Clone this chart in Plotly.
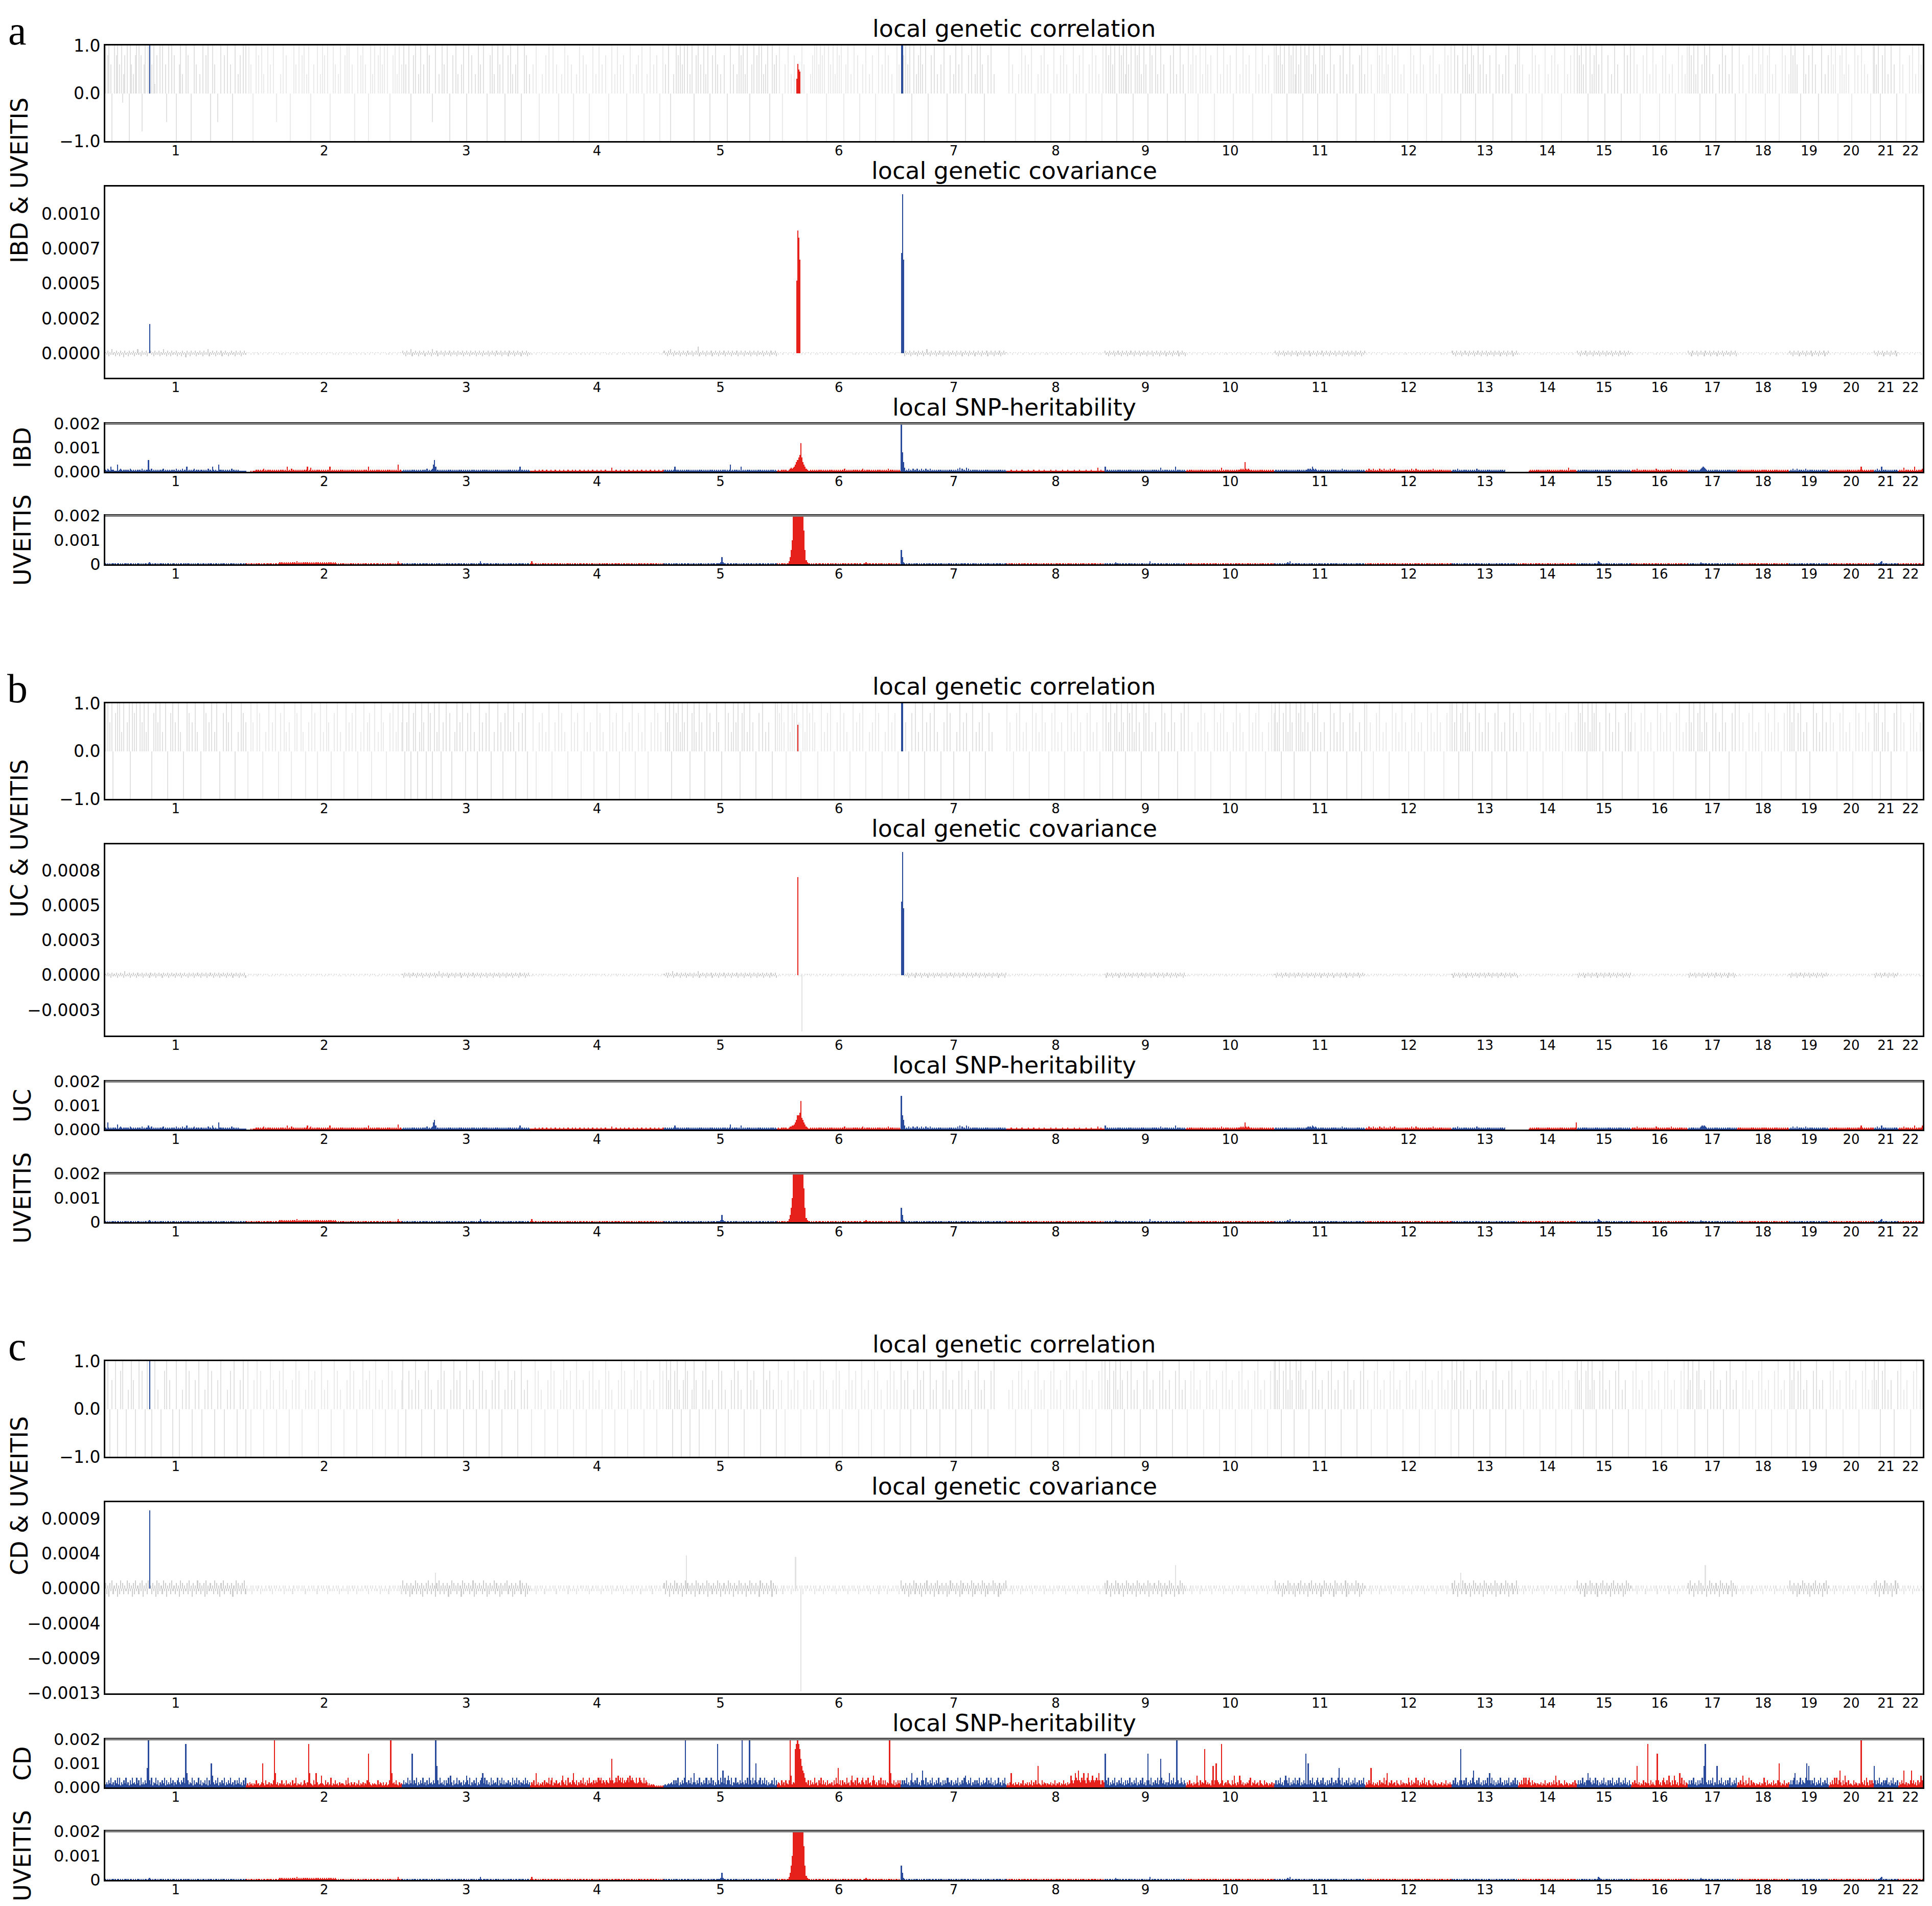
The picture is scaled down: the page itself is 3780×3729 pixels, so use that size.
import plotly.graph_objects as go

W, H = 3780, 3729

# LD blocks per chromosome (x axis is block index)
chrom_blocks = [132, 146, 120, 125, 106, 116, 99, 92, 76, 83, 85, 81,
                62, 55, 51, 53, 46, 49, 37, 42, 23, 23]
chrom_names = [str(i) for i in range(1, 23)]

# level codes
corr_levels = {'.': 0.0, '1': 0.2, '2': 0.4, '3': 0.6, '4': 0.8, '5': 1.0,
               'a': -0.2, 'b': -0.4, 'c': -0.6, 'd': -0.8, 'e': -1.0}
cov_levels = {'0': 0, '1': 1, '2': 2, '3': 3, '4': 5,
              'a': -1, 'b': -2, 'c': -3, 'd': -5}
h2_levels = {'0': 0.0, '1': 0.00004, '2': 0.00008, '3': 0.00012, '4': 0.00017,
             '5': 0.00022, '6': 0.0003, '7': 0.0004, '8': 0.0005, '9': 0.0006,
             'A': 0.0007, 'B': 0.0008, 'C': 0.0009, 'D': 0.001, 'E': 0.0012,
             'F': 0.0014, 'G': 0.0016, 'H': 0.0018, 'I': 0.002, 'J': 0.003}

# ---------------- local genetic correlation (gray, non significant) ----------
corr_a = [
    "5.45.3e.5. 45.3.5a24. 5.e53.2.45 .5.4d.35.. 5e.3.51.4. .5.5..3c.5 ..5.4.e..3 5.2..5.4.. e..5.3..2. .5..4.5.e. 5.3..c..5. .4..5..3.e .5..2.4..5 .5",
    "..5.3.e..5 .4..5.2... 5.3..5..c. ..2.5..4.. .e..5.3..5 ..4.5.2.5. e..3..5..2 .5.4..5.e. .5.3..2.5. ..4.5.5..3 .e..5..4.5 .3..e.5.2. 5..4.5.3.5 ..5.e..4.5 .2.5.3",
    ".5.3..5.e. 4.5..2.5.. 3..5.4..c. .5..2..5.3 ..5.e..4.. 5.2..3.5.. e.5..4..2. .5.3..5..e ..4.5.2..5 .3..5.e..4 .5.2..3.5. .e..5.4..2",
    "..3..5..e. .2..4..5.. .5..3.e..2 ..5..4..3. e..2..5..4 ..3..e..5. .2..5..3.. 4..e..5..2 .5..3..4.. e..5..2..3 .4..5.e..2 ..5..3..4. .e..5",
    ".3..5.e..2 .5.4.5.3.5 ..5.2.5.e. 4.5.3..5.2 .5.e.4..5. 3..2..4..e ..5..3..2. 5.4.5.2.5. e.3.5..4.5 .5.2.3.5.e .5.3.4",
    "..5..e.3.. 5..2..4.5. ...5.3..e. .2.4.5.5.3 5.4.5.e.5. 3.5.2.5.4. 5.e.3.5..2 ..5..4.e.. 3..5..2..4 ..e..5..3. .5..4..2.e ..5.3.",
    "5.4.5.3.5. e.5.2.4.5. 3..5.e..4. .5..2..3.. 5..e..4..2 .5..3..5.. e..4..5..2 .5..5.3.e. .4..5..2..",
    "..5..3..e. .2..5..4.. 3..5..e..2 ..4..5..3. .e..5..2.. 4..5..3..e ..5..2..4. .5..e..3.. 5..4..2..e 5.",
    ".5.4.5.3.5 .e.5.4.5.2 5.3.5.e.5. 4.5.2.5.3. e.5.4..5.2 ..5..3..e. .4..5..2.. 5..3.e",
    "..5.3.5..4 .e.5.2..5. 3..4..e..5 ..2..5..3. .4..e..5.. 2..5..3..4 ..e..5..2. .5..3..4.. e.5",
    ".5.4.5.3.5 .e.5.4.5.2 5.3.5.e.5. 4.5.2.5.3. e.5.4.5..2 ..5..3..e. .4..5..2.. 5..3..e..4 .5..2",
    "..5..3..e. .5.4.5.2.5 .3.e.5.4.. 5..2..3..e ..5..4..2. .5..3..e.. 4..5..2..3 .e..5..4.. 5",
    "..5..4..e. 5.3.5.2.5. 4.e.5.3..5 ..2..4..e. .5..3..2.. 4..5..e..3 .5",
    ".5..3..e.. 2..5..4..3 ..e..5..2. .4..5..3.. e..5..2..4 ..5..",
    "5.4.5.3.5. e.5.2.4.5. 3..5..e..4 ..2..5..3. .e..5..4.. 5",
    "..5..3..e. .4..5..2.. 5..3..e..4 ..5..2..3. .e..5..4.. 2.5",
    ".5.4.5.2.5 .e.3.5.4.. 5..2..e..3 ..5..4..2. .5..e.",
    "..5..3..e. .4..5..2.. 5.3.5.e.4. 5..2..3..e ..5..4..2",
    ".5.4.5.3.. e..5.2..4. .5..3..e.. 5..2..4",
    "..5.3.5.e. 4.5.2.5.3. .e..5..4.. 5..3..2..e .5",
    "5.3.5.e.4. 5..2..5..3 .e.",
    ".5..3..e.. 4..5..2..5 .3.",
]
corr_b = [
    "5.5.3.5e.4 .5.5.2.5.. 3.5e.5.4.5 ..5.3.5.2. 5..e.4.5.3 .5.2..5.e. .4.5.3..5. 2..e..5.4. .3..5.2..e ..5.4..3.5 ..2.5..e.. 4..5.3..5. .e..2..5.4 .3",
    ".e..5.3... 5.4..e..2. .5..3..5.. e.4..5.2.. 3.e..5.4.. .5.2.e..3. .5..4.e..5 ..2..5.3.e ..4..5..2. .e.5..3..4 ..5.e..2.. 5..3.4.e.. 5..2..5.3. .e..4..5.. 2.5..3",
    "5.e.3.5.e. 4.5.e.2.5. 3.e.5.4.e. 5.2.5.e.3. .5..4.e..2 .5..3.5..e .4..5..2.. e.5..3..4. .5.e..2..5 ..3.e.4..5 .2..5.e..3 ..4..5.e..",
    "..5..e..3. .4..2..5.. e..3..5..4 ..2..e..5. .3..4..e.. 5..2..3..e ..5..4..2. .e..5..3.. 4..e..5..2 ..3..5..e. .4..2..5.. e..3..5..4 ..2..",
    ".5.3.5.e.5 .4.5.2.5.3 ..5.e.4.5. 2..5.3..e. 5..4..2..5 .3..e..5.. 4..2.5.3.5 .e.4.5..2. 5..3..e..4 ..5..2..3. .e..5.",
    "5.4.5.3.e. 5.2.5.4.5. 3.e.5.2.5. 4..5.3..e. .5..2..4.. 5..e..3..5 ..4..2..e. .5..3..4.. 5..e..2..3 ..5..4..e. .2..5..3.. 4..e..",
    ".5..3..e.. 4..5..2.. .5.e.3..4. ..5..2..e. .3..5..4.. e..2..5..3 ..4..e..5. .2..3..5.. e..4..2..",
    "5..3..e..4 ..5..2..3. .e..5..4.. 2..5..3..e ..4..5..2. .3..e..5.. 4..2..5..3 ..e..4..5. .2..3..e.. 5.",
    ".5.3.5.e.4 .5.2.5.3.e .5.4.5.2.5 ..3.e.5.4. .5..2..3.. e..5..4..2 ..5..3..e. .4..5.",
    "..5..2..e. .3..5..4.. 2..e..5..3 ..4..5..2. .e..3..5.. 4..2..e..5 ..3..4..5. .2..e..3.. 5.4",
    "5.3.5.e.4. 5.2.5.3.e. 5.4.5.2.5. .3.e.5.4.. 5..2..3..e ..5..4..2. .5..3..e.. 4..5..2..3 .e..5",
    ".5..3..e.. 4..5..2..3 ..e..5..4. .2..5..3.. e..4..5..2 ..3..e..5. .4..2..5.. 3..e..4..5 .",
    "5.3.5.e.4. 5.2.5.3..e ..5..4..2. .5..3..e.. 4..5..2..3 .e..5..4.. 2.",
    "..5..3..e. .4..5..2.. 3..e..5..4 ..2..5..3. .e..4..5.. 2..3.",
    ".5.4.5.3.e 5.2.5.4.5. .3..e..5.. 4..2..5..3 ..e..4..5. 2",
    "5..3..e..4 ..5..2..3. .e..5..4.. 2..5..3..e ..4..5..2. .3.",
    ".5.3.5.e.4 .5.2.5.3.. e..5..4..2 ..5..3..e. .4..5.",
    "..5..3..e. .4..5..2.. 3..e..5..4 ..2..5..3. .e..4..5.",
    "5.3.5.e.4. 5..2..3..e ..5..4..2. .5..3.",
    ".5..3..e.. 4..5..2..3 ..e..5..4. .2..5..3.. e.",
    "5.4.5.e.3. 5..2..e..4 .5.",
    "..5..3..e. .4..5..2.. 3.5",
]
corr_c = [
    "..5.e.3..5 .e..4.5..e .2..5.3.e. .5..4..e.5 .3.e..5..2 ..e..4.5.. 3..e..5..e ..2..5..4. .e..3..5.. e..2..5..4 ..e..3..5. .e..2..4.. 5..e..3..5 .e",
    ".5..e..3.. 5..4..e..2 ..5..3..e. .4..5..2.. e..3..5..4 ..e..2..5. .3..4..e.. 5..2..3..e ..5..4..2. .e..3..5.. 4..e..2..5 ..3..4..e. .5..2..3.. e..5..4..2 ..e..3",
    "5..e..4..2 ..5..3..e. .4..5..2.. e..3..5..4 ..e..2..5. .3..4..e.. 5..2..3..e ..5..4..2. .e..3..5.. 4..e..2..5 ..3..4..e. .5..2..3..",
    ".e..5..4.. 2..e..3..5 ..4..e..2. .5..3..4.. e..5..2..3 ..e..4..5. .2..3..e.. 5..4..2..e ..3..5..4. .e..2..5.. 3..4..e..5 ..2..3..e. .5..4",
    "..5.3.5.e. 4.5.2.e.3. 5.4.e.2.5. 3..e..4..5 ..2..3..e. .5..4..2.. e..3..5..4 ..2..e..5. .3..4..2.. e..5..3..4 ..2..e",
    ".5..3..e.. 4..2..5..3 ..e..4..5. .2..3..e.. 5..4..2..e ..3..5..4. .e..2..5.. 3..4..e..5 ..2..3..e. .5..4..2.. e..3..5..4 ..2..e",
    "5..3..4..e ..2..5..3. .4..e..5.. 2..3..e..4 ..5..2..3. .e..4..5.. 2..3..e..4 ..5..2..3. .e..4..5..",
    "..2..3..e. .4..5..2.. 3..e..4..5 ..2..3..e. .4..5..2.. 3..e..4..5 ..2..3..e. .4..5..2.. 3..e..4..5 ..",
    "5.3.5.e.4. 5.2.5.3.e. .4..5..2.. 3..e..4..5 ..2..3..e. .4..5..2.. 3..e..4..5 ..2..3",
    ".e..4..5.. 2..3..e..4 ..5..2..3. .e..4..5.. 2..3..e..4 ..5..2..3. .e..4..5.. 2..3..e..4 ..5",
    "5.3.5.e.4. 5.2.5.3.e. 5.4.5.2..3 ..e..4..5. .2..3..e.. 4..5..2..3 ..e..4..5. .2..3..e.. 4..5.",
    "..3..e..4. .5..2..3.. e..4..5..2 ..3..e..4. .5..2..3.. e..4..5..2 ..3..e..4. .5..2..3.. e",
    "5.3.5.e.4. .5..2..3.. e..4..5..2 ..3..e..4. .5..2..3.. e..4..5..2 ..",
    "..3..e..4. .5..2..3.. e..4..5..2 ..3..e..4. .5..2..3.. e..4.",
    "5.3.5.e.4. 5.2.5.3.e. .4..5..2.. 3..e..4..5 ..2..3..e. .",
    ".4..5..2.. 3..e..4..5 ..2..3..e. .4..5..2.. 3..e..4..5 ..2",
    "5.3.5.e.4. 5.2..3..e. .4..5..2.. 3..e..4..5 ..2..3",
    "..e..4..5. .2..3..e.. 4..5..2..3 ..e..4..5. .2..3..e.",
    "5.3.5.e.4. 5..2..3..e ..4..5..2. .3..e..",
    ".4..5..2.. 3..e..4..5 ..2..3..e. .4..5..2.. 3.",
    "5.3.5.e.4. 5..2..3..e ..4",
    "..5..2..3. .e..4..5.. 2.5",
]
# significant blocks: (chromosome, block in chromosome, value)
corr_sig_a = [(1, 41, 1.0), (6, 18, 0.3), (6, 19, 0.62), (6, 20, 0.5), (6, 21, 0.45),
              (7, 0, 1.0), (7, 1, 1.0)]
corr_sig_b = [(6, 19, 0.55), (7, 0, 1.0), (7, 1, 1.0)]
corr_sig_c = [(1, 41, 1.0)]

# ---------------- local genetic covariance ----------------------------------
cov_a = [
    "1a2b1a3a1b 2a1b2a1c2a 1b2a1a2b1a 3a1b2a1a2b 1a2a1b2a1a 2b1a3a1b2a 1b2a1a2b1a 1b2a1c2a1b 2a1a2b1a2a 1b2a1a3b1a 2a1b2a1a2b 1a2a1b1a2a 1b2a1a2b1a 2a",
    "1010a01a10 1a010a1010 a1010a1010 1a0a10a101 0a1010a1a0 101a010a10 1a010a1010 a1010a1010 1a0a10a101 0a1010a1a0 101a010a10 1a010a1010 a1010a1010 1a0a10a101 0a1010",
    "2a1b2a1a3b 1a2a1b2a1a 2b1a2a1b3a 1a2b1a2a1b 2a1a2b1a2a 1b2a1a2b1a 2a1b2a1a2b 1a2a1b2a1a 2b1a2a1b2a 1a2b1a2a1b 2a1a2b1a2a 1b2a1a2b1a",
    "1a010a1010 a1010a1010 1a0a10a101 0a1010a1a0 101a010a10 1a010a1010 a1010a1010 1a0a10a101 0a1010a1a0 101a010a10 1a010a1010 a1010a1010 1a0a1",
    "2a1b2a3a1b 2a1a2b1a2a 1b2a1a2b1a 2a4b1a2a1b 2a1a2b1a2a 1b2a1a2b1a 2a1b2a1a2b 1a2a1b2a1a 2b1a2a1b2a 1a2b1a2a1b 2a1a2b",
    "1a010a1010 a1010a1010 1a0a10a101 0a1010a1a0 101a010a10 1a010a1010 a1010a1010 1a0a10a101 0a1010a1a0 101a010a10 1a010a1010 a10101",
    "2a1b2a1a2b 1a2a1b2a1a 2b1a3a1b2a 1a2b1a2a1b 2a1a2b1a2a 1b2a1a2b1a 2a1b2a1a2b 1a2a1b2a1a 2b1a2a1b2a 1a2b1a2a1",
    "1a010a1010 a1010a1010 1a0a10a101 0a1010a1a0 101a010a10 1a010a1010 a1010a1010 1a0a10a101 0a1010a1a0 10",
    "2a1b2a1a2b 1a2a1b2a1a 2b1a2a1b2a 1a2b1a2a1b 2a1a2b1a2a 1b2a1a2b1a 2a1b2a1a2b 1a2a1b",
    "1a010a1010 a1010a1010 1a0a10a101 0a1010a1a0 101a010a10 1a010a1010 a1010a1010 1a0a10a101 0a1",
    "2a1b2a1a2b 1a2a1b2a1a 2b1a2a1b2a 1a2b1a2a1b 2a1a2b1a2a 1b2a1a2b1a 2a1b2a1a2b 1a2a1b2a1a 2b1a2",
    "1a010a1010 a1010a1010 1a0a10a101 0a1010a1a0 101a010a10 1a010a1010 a1010a1010 1a0a10a101 0",
    "2a1b2a1a2b 1a2a1b2a1a 2b1a2a1b2a 1a2b1a2a1b 2a1a2b1a2a 1b2a1a2b1a 2a",
    "1a010a1010 a1010a1010 1a0a10a101 0a1010a1a0 101a010a10 1a010",
    "2a1b2a1a2b 1a2a1b2a1a 2b1a2a1b2a 1a2b1a2a1b 2a1a2b1a2a 1",
    "1a010a1010 a1010a1010 1a0a10a101 0a1010a1a0 101a010a10 1a0",
    "2a1b2a1a2b 1a2a1b2a1a 2b1a2a1b2a 1a2b1a2a1b 2a1a2b",
    "1a010a1010 a1010a1010 1a0a10a101 0a1010a1a0 101a010a1",
    "2a1b2a1a2b 1a2a1b2a1a 2b1a2a1b2a 1a2b1a2",
    "1a010a1010 a1010a1010 1a0a10a101 0a1010a1a0 10",
    "2a1b2a1a2b 1a2a1b2a1a 2b1",
    "1a010a1010 a1010a1010 1a0",
]
cov_b = [
    "1a2a1b2a1a 2b1a2a1b3a 1a2b1a2a1b 2a1a2b1a2a 1b2a1a2b1a 2a1b2a1a2b 1a2a1b2a1a 2b1a2a1b2a 1a2b1a2a1b 2a1a2b1a2a 1b2a1a2b1a 2a1b2a1a2b 1a2a1b2a1a 2b",
    "0a1010a101 a1010a1010 1a0a10a101 0a1010a1a0 101a010a10 1a010a1010 a1010a1010 1a0a10a101 0a1010a1a0 101a010a10 1a010a1010 a1010a1010 1a0a10a101 0a1010a1a0 101a01",
    "1b2a1a2b1a 2a1b2a1a2b 1a2a1b2a1a 2b1a3a1b2a 1a2b1a2a1b 2a1a2b1a2a 1b2a1a2b1a 2a1b2a1a2b 1a2a1b2a1a 2b1a2a1b2a 1a2b1a2a1b 2a1a2b1a2a",
    "0a1a010a10 1a1010a101 a0a10a1010 1a1010a1a0 10a1010a10 a1010a1010 1a1010a101 a0a10a1010 1a1010a1a0 10a1010a10 a1010a1010 1a1010a101 a0a10",
    "1a2b2a1a3b 1a2a1b2a1a 2b1a2a1b2a 1a3b1a2a1b 2a1a2b1a2a 1b2a1a2b1a 2a1b2a1a2b 1a2a1b2a1a 2b1a2a1b2a 1a2b1a2a1b 2a1a2b",
    "0a1a010a10 1a1010a101 a0a10a1010 1a1010a1a0 10a1010a10 a1010a1010 1a1010a101 a0a10a1010 1a1010a1a0 10a1010a10 a1010a1010 1a1010",
    "1b2a1a2b1a 2a1b2a1a2b 1a2a1b2a1a 2b1a2a1b2a 1a2b1a2a1b 2a1a2b1a2a 1b2a1a2b1a 2a1b2a1a2b 1a2a1b2a1a 2b1a2a1b2",
    "0a1a010a10 1a1010a101 a0a10a1010 1a1010a1a0 10a1010a10 a1010a1010 1a1010a101 a0a10a1010 1a1010a1a0 10",
    "1b2a1a2b1a 2a1b2a1a2b 1a2a1b2a1a 2b1a2a1b2a 1a2b1a2a1b 2a1a2b1a2a 1b2a1a2b1a 2a1b2a",
    "0a1a010a10 1a1010a101 a0a10a1010 1a1010a1a0 10a1010a10 a1010a1010 1a1010a101 a0a10a1010 1a1",
    "1b2a1a2b1a 2a1b2a1a2b 1a2a1b2a1a 2b1a2a1b2a 1a2b1a2a1b 2a1a2b1a2a 1b2a1a2b1a 2a1b2a1a2b 1a2a1",
    "0a1a010a10 1a1010a101 a0a10a1010 1a1010a1a0 10a1010a10 a1010a1010 1a1010a101 a0a10a1010 1",
    "1b2a1a2b1a 2a1b2a1a2b 1a2a1b2a1a 2b1a2a1b2a 1a2b1a2a1b 2a1a2b1a2a 1b",
    "0a1a010a10 1a1010a101 a0a10a1010 1a1010a1a0 10a1010a10 a1010",
    "1b2a1a2b1a 2a1b2a1a2b 1a2a1b2a1a 2b1a2a1b2a 1a2b1a2a1b 2",
    "0a1a010a10 1a1010a101 a0a10a1010 1a1010a1a0 10a1010a10 a10",
    "1b2a1a2b1a 2a1b2a1a2b 1a2a1b2a1a 2b1a2a1b2a 1a2b1a",
    "0a1a010a10 1a1010a101 a0a10a1010 1a1010a1a0 10a1010a1",
    "1b2a1a2b1a 2a1b2a1a2b 1a2a1b2a1a 2b1a2a1",
    "0a1a010a10 1a1010a101 a0a10a1010 1a1010a1a0 10",
    "1b2a1a2b1a 2a1b2a1a2b 1a2",
    "0a1a010a10 1a1010a101 a0a",
]
cov_c = [
    "2b1c2a3b1a 2c1b3a2b1a 3b2a1c2b3a 1b2a3c1a2b 3a1b2a1c3b 2a1b3a2c1a 2b3a1b2a1c 3a2b1a2b3a 1c2a1b3a2b 1a2c3b1a2a 1b3a2b1c2a 3b1a2a1b2c 1a3b2a1b2a 3b",
    "1a0a1b1a01 a10b1a0a1a 01a1b01a10 a1a01b1a0a 1a0b1a01a1 0a1a1b0a1a 01a1a0b1a0 1a1a01b1a0 a1a01a1b0a 1a0a1b1a01 a10b1a0a1a 01a1b01a10 a1a01b1a0a 1a0b1a01a1 0a1a1b",
    "3a1b2a1c2b 1a3b2a1b2c 1a2b3a1b2a 1c2a3b1a2b 1a2c1b3a2a 1b2a1c3b2a 1a2b1a3c2b 1a2a1b3a2c 1b2a1a3b2a 1c2b1a2a3b 1a2c1b2a1a 3b2a1c2b1a",
    "1a0a1b1a01 a10b1a0a1a 01a1b01a10 a1a01b1a0a 1a0b1a01a1 0a1a1b0a1a 01a1a0b1a0 1a1a01b1a0 a1a01a1b0a 1a0a1b1a01 a10b1a0a1a 01a1b01a10 a1a01",
    "2b3a1c2a1b 3a2b1a2c1a 3b2a1b2a1c 3a2b1a2b1a 3c2a1b2a1b 3a2c1a2b1a 3b2a1c2a1b 3a2b1a2c1a 3b2a1b2a1c 3a2b1a2b1a 3c2a1b",
    "1a0a1b1a01 a10b1a0a1a 01a1b01a10 a1a01b1a0a 1a0b1a01a1 0a1a1b0a1a 01a1a0b1a0 1a1a01b1a0 a1a01a1b0a 1a0a1b1a01 a10b1a0a1a 01a1b0",
    "3a1b2a1c2b 1a3b2a1b2c 1a2b3a1b2a 1c2a3b1a2b 1a2c1b3a2a 1b2a1c3b2a 1a2b1a3c2b 1a2a1b3a2c 1b2a1a3b2a 1c2b1a2a3",
    "1a0a1b1a01 a10b1a0a1a 01a1b01a10 a1a01b1a0a 1a0b1a01a1 0a1a1b0a1a 01a1a0b1a0 1a1a01b1a0 a1a01a1b0a 1a",
    "2b3a1c2a1b 3a2b1a2c1a 3b2a1b2a1c 3a2b1a2b1a 3c2a1b2a1b 3a2c1a2b1a 3b2a1c2a1b 3a2b1a",
    "1a0a1b1a01 a10b1a0a1a 01a1b01a10 a1a01b1a0a 1a0b1a01a1 0a1a1b0a1a 01a1a0b1a0 1a1a01b1a0 a1a",
    "3a1b2a1c2b 1a3b2a1b2c 1a2b3a1b2a 1c2a3b1a2b 1a2c1b3a2a 1b2a1c3b2a 1a2b1a3c2b 1a2a1b3a2c 1b2a1",
    "1a0a1b1a01 a10b1a0a1a 01a1b01a10 a1a01b1a0a 1a0b1a01a1 0a1a1b0a1a 01a1a0b1a0 1a1a01b1a0 a",
    "2b3a1c2a1b 3a2b1a2c1a 3b2a1b2a1c 3a2b1a2b1a 3c2a1b2a1b 3a2c1a2b1a 3b",
    "1a0a1b1a01 a10b1a0a1a 01a1b01a10 a1a01b1a0a 1a0b1a01a1 0a1a1",
    "3a1b2a1c2b 1a3b2a1b2c 1a2b3a1b2a 1c2a3b1a2b 1a2c1b3a2a 1",
    "1a0a1b1a01 a10b1a0a1a 01a1b01a10 a1a01b1a0a 1a0b1a01a1 0a1",
    "2b3a1c2a1b 3a2b1a2c1a 3b2a1b2a1c 3a2b1a2b1a 3c2a1b",
    "1a0a1b1a01 a10b1a0a1a 01a1b01a10 a1a01b1a0a 1a0b1a01a",
    "3a1b2a1c2b 1a3b2a1b2c 1a2b3a1b2a 1c2a3b1",
    "1a0a1b1a01 a10b1a0a1a 01a1b01a10 a1a01b1a0a 1a",
    "2b3a1c2a1b 3a2b1a2c1a 3b2",
    "1a0a1b1a01 a10b1a0a1a 01a",
]
cov_unit = [1e-5, 1e-5, 3.5e-5]
# larger non significant covariance blocks (gray)
cov_out_a = []
cov_out_b = [(6, 23, -0.00042)]
cov_out_c = [(6, 22, -0.0013), (6, 17, 0.0004), (5, 21, 0.00042), (9, 66, 0.0003),
             (17, 16, 0.0003), (13, 8, 0.0002), (3, 31, 0.0002)]
cov_sig_a = [(1, 41, 0.00021), (6, 18, 0.00052), (6, 19, 0.00088), (6, 20, 0.00083),
             (6, 21, 0.00067), (7, 0, 0.00072), (7, 1, 0.00114), (7, 2, 0.00067)]
cov_sig_b = [(6, 19, 0.00073), (7, 0, 0.00055), (7, 1, 0.00092), (7, 2, 0.0005)]
cov_sig_c = [(1, 41, 0.00099)]

# ---------------- local SNP-heritability ------------------------------------
h2_ibd = [
    "2132152211 1612321212 1213212121 2121312122 8213121212 1212312121 2121213121 2131215121 2123121212 2121213121 5212116221 2121212131 2121211111 11",
    "0000101112 1212123121 2121212121 2121212151 2131212121 2121212512 4121212121 2121212151 2121212121 2121212121 2121212121 2121512121 2121212121 2121212121 216121",
    "1212121212 1212121212 1213121236 8512121212 1212121212 1212121212 1212121212 1212121212 1212121212 1212121212 1212121212 5121212121",
    "1111211121 1211121112 1112111211 1211121112 1121112111 2111211121 1121112111 2111114111 2111211121 1121112111 2111211121 1121112111 21112",
    "1212121212 5212121212 1212121212 1212121212 1212121212 1212121212 1261212121 2151212121 2121212121 2121212121 212121",
    "1211212121 1234345678 9AE9765321 1212121212 1212121212 1212121212 1213121212 1212121212 3121212121 2121212121 2121312121 212121",
    "IB74121312 1312131213 1213121312 1212121212 1212121212 1213141312 1413121212 1212121212 1212121212 121212121",
    "1111211112 1111211111 2111121111 2111121111 1211112111 1121111211 1112111121 1111211112 1111141121 11",
    "5121212121 2121212121 2121212121 2121212121 2121212121 2141212121 2121215121 212121",
    "1212121212 1212121212 1212121212 1214121212 1212121212 2323273232 1212121212 1212121212 121",
    "1212121212 1212121212 1212121212 2323253232 1212121212 1212121212 1213121212 1212121212 12121",
    "1213121312 1213121312 1213121312 1212121212 1213121312 1212121212 1213121212 1212121212 1",
    "1212131212 1212121212 1213121212 1212121212 1212121212 0000000000 00",
    "0000000000 1212121212 1212121212 1212121212 1212121412 12121",
    "1212121212 1212121212 1212121212 1212121212 1212121212 1",
    "1212131212 1212121212 1213121212 1212121312 1212121212 121",
    "1212121212 1234543212 1212121212 1212121212 121212",
    "1212121212 1212121212 1212121212 1212121212 121212121",
    "1213121312 1212131212 1212121212 1212121",
    "1212121212 1212121212 1212121212 5212121212 12",
    "1213121512 1212121212 121",
    "1212141212 1212151212 123",
]
h2_uc = [
    "2162121212 1512321212 1213212121 2121312122 4213121212 1212312121 2121213121 2131214121 2123121212 2121213121 4212116221 2121212131 2121211111 11",
    "0000101112 1212123121 2121212121 2121212141 2131212121 2121212412 3121212121 2121212141 2121212121 2121212121 2121212121 2121412121 2121212121 2121212121 215121",
    "1212121212 1212121212 1213121236 7412121212 1212121212 1212121212 1212121212 1212121212 1212121212 1212121212 1212121212 4121212121",
    "1111211121 1211121112 1112111211 1211121112 1121112111 2111211121 1121112111 2111113111 2111211121 1121112111 2111211121 1121112111 21112",
    "1212121212 4212121212 1212121212 1212121212 1212121212 1212121212 1251212121 2141212121 2121212121 2121212121 212121",
    "1211212121 1233445679 9AE8765321 1212121212 1212121212 1212121212 1213121212 1212121212 3121212121 2121212121 2121312121 212121",
    "F974121312 1312131213 1213121312 1212121212 1212121212 1213141312 1413121212 1212121212 1212121212 121212121",
    "1111211112 1111211111 2111121111 2111121111 1211112111 1121111211 1112111121 1111211112 1111131121 11",
    "4121212121 2121212121 2121212121 2121212121 2121212121 2131212121 2121214121 212121",
    "1212121212 1212121212 1212121212 1213121212 1212121212 2323263232 1212121212 1212121212 121",
    "1212121212 1212121212 1212121212 2323243232 1212121212 1212121212 1213121212 1212121212 12121",
    "1213121312 1213121312 1213121312 1212121212 1213121312 1212121212 1213121212 1212121212 1",
    "1212131212 1212121212 1213121212 1212121212 1212121212 0000000000 00",
    "0000000000 1212121212 1212121212 1212121212 1212121212 12126",
    "1212121212 1212121212 1212121212 1212121212 1212121212 1",
    "1212131212 1212121212 1213121212 1212121312 1212121212 121",
    "1212121212 1234343212 1212121212 1212121212 121212",
    "1212121212 1212121212 1212121212 1212121212 121212121",
    "1213121312 1212131212 1212121212 1212121",
    "1212121212 1212121212 1212121212 4212121212 12",
    "1213121412 1212121212 121",
    "1212131212 1212141212 124",
]
h2_cd = [
    "3536473526 4737253647 3526374537 462735364B J637254736 2536472635 3746253675 36574H9635 4726354736 254637263D 8536472536 4725364735 2636473526 37",
    "2425342436 34235D4263 352436J935 2436342634 3526347243 35236425H9 4326395234 8432635237 2436342534 4326374253 3524362435 2436F53243 4326354252 35236J9453 632534",
    "363547364F 3647253647 3526374536 4JC6374536 2647385263 4736452635 8637253647 2536794736 3527364537 2647363546 3527364736 2546374635",
    "2536293524 3526354736 7254634526 8536274536 9536253647 3526474536 4657767465 365476E645 7586757465 6758676547 4576547465 2423232121 21212",
    "2323434536 3647253647 J536473595 3647253647 7364736253 H6375A4736 8637254745 364J536473 J63746D536 7364736253 463726",
    "3542635264 36J8354GHI HGECA97536 2635374526 4736352634 3526374B36 2635374526 8536274536 7536374526 8635264736 36254J9436 253646",
    "3636473526 9536473526 A637253647 2536473526 3647753625 3647253647 8536472536 3647253645 7364735263 473526473",
    "2425934253 3524362435 253625363C 4326354243 3524362435 2436342534 8646976A65 7696479656 8656769636 65",
    "F637253647 2536473526 3647253647 2536473526 F637253647 36E7463525 9364735J63 475364",
    "2536342534 8526354G63 53426C36D6 534H624536 4326384253 8635243546 7254634526 4326354243 524",
    "3636473526 8647253647 364725364F 3D36473526 7536473526 3647253647 B637253647 2536473526 36473",
    "25364B3524 3526354736 9254634526 4326354243 7526354736 2536473526 4326354243 3524362435 3",
    "36473526G6 3647253647 A536473526 3647294736 2536473526 3647253647 36",
    "2536374736 7526354243 3524362435 2536385263 4326354243 35264",
    "3636473526 9675364736 2536473526 3647253647 2536473526 3",
    "25364C3524 36254H4263 5326F63526 7536385263 8635294736 254",
    "3636473526 36473CH536 3647253C36 4735263647 253647",
    "2536385263 4726354243 3524375263 435263426D 524362435",
    "3636793635 736547D6C6 3647253647 2536473",
    "2536374736 A526385263 4326354243 J536275263 64",
    "C636473526 4673526473 526",
    "25364A3524 36A4635263 586",
]
h2_uveitis = [
    "1010101101 0110101011 0101101010 1101010110 1210101101 0110101011 0101101010 1101010110 1010101101 0110101011 0101101010 1101010110 1010101101 01",
    "1010110101 0110101101 1011010110 1212121212 1212121312 1212121212 1212121212 1212121212 1212101010 1101010110 1010110101 0110101101 1011010110 1010110101 013101",
    "1010110101 0110101101 1011010110 1010110101 0110101101 1011010110 1010110101 0113101101 1011010110 1010110101 0110101101 1011010110",
    "1310110101 0110101101 1011010110 1010110101 0110101101 1011010110 1010110101 0110101101 1011010110 1010110101 0110101101 1011010110 10101",
    "1010110101 0110101101 1011010110 1010110101 0110101101 1112621101 1011010110 1010110101 0110101101 1011010110 101011",
    "1010110101 1369DJJJJJ JJJJJF9421 1010101101 1011010110 1010110101 0110101101 1011010110 0112101101 1011010110 1010110101 011010",
    "9621010110 1010110101 0110101101 1011010110 1010110101 0110101101 1011010110 1010110101 0110101101 101101011",
    "1010110101 0110101101 1011010110 1010110101 0110101101 1011010110 1010110101 0110101101 1011010110 10",
    "1010110101 2110101101 1011010110 1010110101 0130101101 1011010110 1010110101 010110",
    "1010110101 0110101101 1011010110 1010110101 0110101101 1011010110 1010110101 0110101101 101",
    "1010110101 0121301101 1011010110 1010110101 0110101101 1011010110 1010110101 0110101101 10110",
    "1010110101 0110101101 1011010110 1010110101 0110101101 1011010110 1010110101 0110101101 1",
    "1010110101 0110101101 1011010110 1010110101 0110101101 1011010110 10",
    "1010110101 0110101101 1011010110 1010110101 0110101101 10110",
    "1010110101 0110101101 3211010110 1010110101 0110101101 1",
    "1010110101 0110101101 1011010110 1010110101 0110101101 101",
    "1010110101 0121101101 1011010110 1010110101 011010",
    "1010110101 0110101101 1011010110 1010110101 011010110",
    "1010110101 0110101101 1011010110 1010110",
    "1010110101 0110101101 1011010110 1010110101 01",
    "1010112301 0110101101 101",
    "1010110101 0110101101 101",
]

panel_letters = ["a", "b", "c"]
pair_labels = ["IBD & UVEITIS", "UC & UVEITIS", "CD & UVEITIS"]
trait_labels = ["IBD", "UC", "CD"]

# ---------------------------------------------------------------------------
BLUE = "#2a4b9b"
RED = "#e6211b"

starts = []
s = 0
for n in chrom_blocks:
    starts.append(s)
    s += n
n_total = s
tick_pos = [st + n / 2 - 0.5 for st, n in zip(starts, chrom_blocks)]


def chrom_color(ch):
    return BLUE if ch % 2 == 1 else RED


def decode(rows, levels, scale=1.0):
    xs, ys, chs = [], [], []
    for ci, row in enumerate(rows):
        code = row.replace(" ", "")[:chrom_blocks[ci]]
        for j, c in enumerate(code):
            xs.append(starts[ci] + j)
            ys.append(levels[c] * scale)
            chs.append(ci + 1)
    return xs, ys, chs


def sparse(items):
    xs = [starts[ch - 1] + b for ch, b, v in items]
    ys = [v for ch, b, v in items]
    return xs, ys, [ch for ch, b, v in items]


fig = go.Figure()


def add_bars(k, xs, ys, colors, width):
    ax = "" if k == 1 else str(k)
    fig.add_trace(go.Bar(x=xs, y=ys, width=width,
                         marker=dict(color=colors, line=dict(width=0)),
                         xaxis="x" + ax, yaxis="y" + ax,
                         showlegend=False, hoverinfo="skip"))


def py(px):
    return 1 - px / H


X0, X1 = 198, 3754
rows_px = {"corr": (81, 268), "cov": (357, 731), "h2": (821, 915), "uve": (1001, 1096)}
offsets = [0, 1287, 2574]

corr_all = [(corr_a, corr_sig_a), (corr_b, corr_sig_b), (corr_c, corr_sig_c)]
cov_all = [(cov_a, cov_out_a, cov_sig_a), (cov_b, cov_out_b, cov_sig_b),
           (cov_c, cov_out_c, cov_sig_c)]
h2_all = [h2_ibd, h2_uc, h2_cd]
cov_axes = [
    dict(range=[-0.000175, 0.001196], vals=[0, 0.00025, 0.0005, 0.00075, 0.001],
         text=["0.0000", "0.0002", "0.0005", "0.0007", "0.0010"]),
    dict(range=[-0.000451, 0.000976], vals=[-0.00026, 0, 0.00026, 0.00052, 0.00078],
         text=["\u22120.0003", "0.0000", "0.0003", "0.0005", "0.0008"]),
    dict(range=[-0.001326, 0.001092], vals=[-0.00132, -0.00088, -0.00044, 0, 0.00044, 0.00088],
         text=["\u22120.0013", "\u22120.0009", "\u22120.0004", "0.0000", "0.0004", "0.0009"]),
]

layout = dict(width=W, height=H, margin=dict(l=0, r=0, t=0, b=0, autoexpand=False),
              paper_bgcolor="white", plot_bgcolor="white",
              barmode="overlay", bargap=0, showlegend=False)
annotations = []
shapes = []
tick_font = dict(family="DejaVu Sans", size=33, color="black")
chr_font = dict(family="DejaVu Sans", size=26, color="black")

for p in range(3):
    off = offsets[p]
    for r, key in enumerate(["corr", "cov", "h2", "uve"]):
        k = p * 4 + r + 1
        top, bot = rows_px[key]
        top += off
        bot += off
        ax = "" if k == 1 else str(k)
        layout["xaxis" + ax] = dict(
            domain=[X0 / W, X1 / W], range=[-0.5, n_total - 0.5], anchor="y" + ax,
            tickmode="array", tickvals=tick_pos, ticktext=chrom_names, ticks="",
            tickfont=chr_font, showgrid=False, zeroline=False, automargin=False,
            ticklabelstandoff=-6,
            showline=True, mirror=True, linecolor="black", linewidth=3)
        yax = dict(domain=[py(bot), py(top)], anchor="x" + ax, ticks="",
                   tickfont=tick_font, showgrid=False, zeroline=False, automargin=False,
                   showline=True, mirror=True, linecolor="black", linewidth=3,
                   tickmode="array")

        if key == "corr":
            rows, sig = corr_all[p]
            xs, ys, chs = decode(rows, corr_levels)
            sig_x = set(starts[c - 1] + b for c, b, v in sig)
            ys = [0 if x in sig_x else y for x, y in zip(xs, ys)]
            cols = ["#e1e1e1" if c % 2 else "#ebebeb" for c in chs]
            add_bars(k, xs, ys, cols, 0.7)
            sx, sy, sc = sparse(sig)
            add_bars(k, sx, sy, [chrom_color(c) for c in sc], 1.0)
            yax.update(range=[-1, 1], tickvals=[-1, 0, 1],
                       ticktext=["\u22121.0", "0.0", "1.0"])
        elif key == "cov":
            rows, outl, sig = cov_all[p]
            xs, ys, chs = decode(rows, cov_levels, cov_unit[p])
            ox, oy, oc = sparse(outl)
            sig_x = set(starts[c - 1] + b for c, b, v in sig)
            ys = [0 if x in sig_x else y for x, y in zip(xs, ys)]
            cols = ["#cdcdcd" if c % 2 else "#e4e4e4" for c in chs]
            add_bars(k, xs, ys, cols, 0.8)
            if ox:
                add_bars(k, ox, oy, ["#e2e2e2"] * len(ox), 0.8)
            sx, sy, sc = sparse(sig)
            add_bars(k, sx, sy, [chrom_color(c) for c in sc], 1.0)
            ca = cov_axes[p]
            yax.update(range=ca["range"], tickvals=ca["vals"], ticktext=ca["text"])
        else:
            rows = h2_all[p] if key == "h2" else h2_uveitis
            xs, ys, chs = decode(rows, h2_levels)
            add_bars(k, xs, ys, [chrom_color(c) for c in chs], 0.9)
            yax.update(range=[0, 0.002], tickvals=[0, 0.001, 0.002],
                       ticktext=["0.000" if key == "h2" else "0", "0.001", "0.002"],
                       tickfont=dict(family="DejaVu Sans", size=32, color="black"))
            # gray top frame of heritability panels
            shapes.append(dict(type="line", xref="paper", yref="paper",
                               x0=X0 / W, x1=X1 / W, y0=py(top), y1=py(top),
                               line=dict(color="#7a7a7a", width=4)))
        layout["yaxis" + ax] = yax

    # texts
    title_font = dict(family="DejaVu Sans", size=46, color="black")
    xc = (X0 + X1) / 2 / W
    for txt, ypx in [("local genetic correlation", 48), ("local genetic covariance", 326),
                     ("local SNP-heritability", 789)]:
        annotations.append(dict(text=txt, x=xc, y=py(ypx + off), xref="paper", yref="paper",
                                showarrow=False, font=title_font,
                                xanchor="center", yanchor="middle"))
    annotations.append(dict(text=panel_letters[p], x=26 / W, y=py(52 + off),
                            xref="paper", yref="paper", showarrow=False,
                            font=dict(family="Liberation Serif", size=80, color="black"),
                            xanchor="center", yanchor="middle"))
    lab_font = dict(family="DejaVu Sans", size=46, color="black")
    for txt, xpx, ypx in [(pair_labels[p], 30, 345), (trait_labels[p], 36, 868),
                          ("UVEITIS", 36, 1049)]:
        annotations.append(dict(text=txt, x=xpx / W, y=py(ypx + off), xref="paper",
                                yref="paper", showarrow=False, font=lab_font, textangle=-90,
                                xanchor="center", yanchor="middle"))

layout["annotations"] = annotations
layout["shapes"] = shapes
fig.update_layout(**layout)
fig.write_html("out.html")
